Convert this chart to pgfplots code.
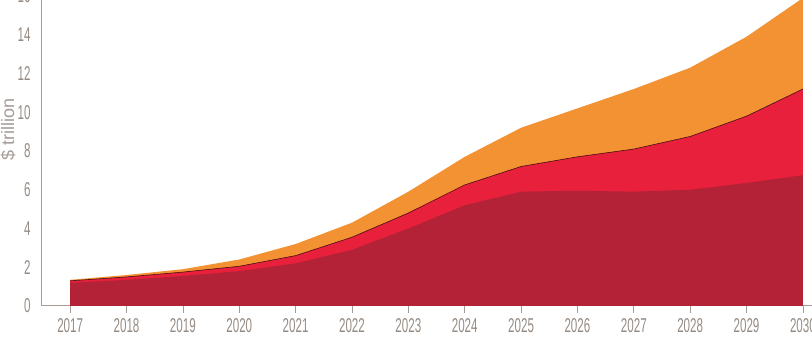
\documentclass[border=0pt]{standalone}
\usepackage{pgfplots}
\pgfplotsset{compat=1.18}
\usepackage{fontspec}
\setmainfont{Liberation Sans}
\newfontfamily\condfont{Liberation Sans}[FakeStretch=0.58]
\definecolor{darkred}{HTML}{B32236}
\definecolor{midred}{HTML}{E8203C}
\definecolor{orng}{HTML}{F39233}
\definecolor{axgray}{HTML}{A59C95}
\definecolor{txtgray}{HTML}{958B83}
\begin{document}
\begin{tikzpicture}
\useasboundingbox (0,0) rectangle (812pt,350pt);
\begin{axis}[
  at={(42pt,44pt)}, anchor=south west,
  scale only axis, width=770pt, height=310pt,
  xmin=2016.5, xmax=2030.16, ymin=0, ymax=16,
  clip=false,
  axis x line*=bottom, axis y line*=left,
  axis line style={axgray, line width=1pt},
  xtick={2017,...,2030}, ytick={0,2,...,16},
  /pgf/number format/1000 sep={},
  /pgf/number format/assume math mode=true,
  tick label style={font=\condfont\fontsize{20}{20}\selectfont, text=txtgray},
  tick align=outside,
  major tick length=7pt,
  xtick style={axgray, line width=0.8pt},
  ytick style={draw=none},
  xticklabel style={yshift=-2pt},
  yticklabel style={xshift=-1pt},
]
\addplot[fill=orng, draw=none] coordinates {
(2017,1.35) (2018,1.6) (2019,1.9) (2020,2.4) (2021,3.2) (2022,4.3) (2023,5.9)
(2024,7.7) (2025,9.2) (2026,10.2) (2027,11.2) (2028,12.3) (2029,13.9) (2030,15.9)} \closedcycle;
\addplot[fill=midred, draw=none] coordinates {
(2017,1.3) (2018,1.5) (2019,1.75) (2020,2.05) (2021,2.6) (2022,3.55) (2023,4.8)
(2024,6.25) (2025,7.2) (2026,7.7) (2027,8.1) (2028,8.75) (2029,9.8) (2030,11.2)} \closedcycle;
\addplot[draw=black!60!darkred, line width=0.6pt] coordinates {
(2017,1.3) (2018,1.5) (2019,1.75) (2020,2.05) (2021,2.6) (2022,3.55) (2023,4.8)
(2024,6.25) (2025,7.2) (2026,7.7) (2027,8.1) (2028,8.75) (2029,9.8) (2030,11.2)};
\addplot[fill=darkred, draw=none] coordinates {
(2017,1.2) (2018,1.35) (2019,1.55) (2020,1.8) (2021,2.2) (2022,2.9) (2023,4.0)
(2024,5.2) (2025,5.9) (2026,5.95) (2027,5.9) (2028,6.0) (2029,6.35) (2030,6.75)} \closedcycle;
\node[rotate=90, font=\fontsize{18}{18}\selectfont, text=txtgray!85] at (axis description cs:-0.044,0.57) {\$ trillion};
\end{axis}
\end{tikzpicture}
\end{document}
